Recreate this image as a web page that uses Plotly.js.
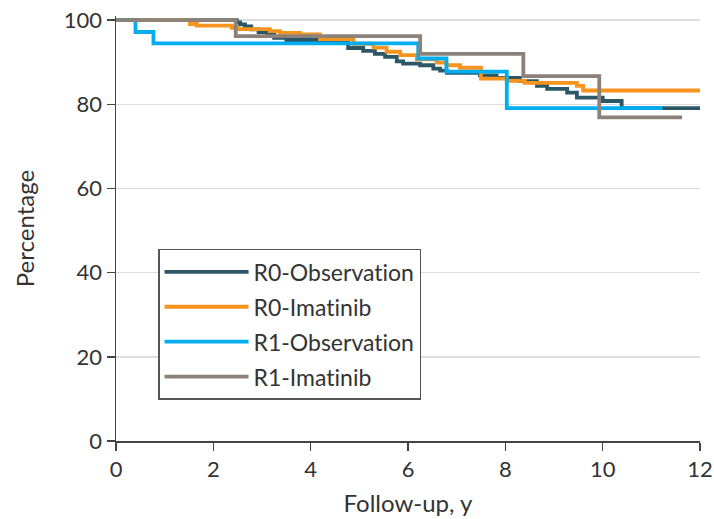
<!DOCTYPE html>
<html>
<head>
<meta charset="utf-8">
<script src="https://cdn.plot.ly/plotly-3.0.1.min.js"></script>
<style>html,body{margin:0;padding:0;background:#fff;}#chart{width:714px;height:519px;}
text{font-variant-ligatures:none;font-feature-settings:"liga" 0,"clig" 0;}</style>
</head>
<body>
<div id="chart"></div>
<script>
// Series names
var seriesNames = ["R0-Observation", "R0-Imatinib", "R1-Observation", "R1-Imatinib"];

// R0-Observation (time in years, percentage after each step)
var r0ObsTime = [0, 2.48, 2.55, 2.65, 2.78, 2.93, 3.1, 3.25, 3.5, 4.77, 5.08, 5.32, 5.53, 5.77, 5.9, 6.25, 6.52, 6.66, 6.8, 7.48, 7.82, 8.3, 8.65, 8.86, 9.27, 9.47, 10.0, 10.39, 12];
var r0ObsPct  = [100, 99.5, 99.0, 98.5, 97.8, 97.2, 96.5, 95.8, 95.3, 93.4, 92.7, 92.0, 91.3, 90.2, 89.7, 89.3, 88.5, 88.0, 87.5, 86.9, 86.3, 85.5, 84.4, 83.7, 82.8, 81.6, 80.8, 79.1, 79.1];

// R0-Imatinib
var r0ImaTime = [0, 1.52, 1.66, 2.38, 2.5, 3.16, 3.37, 3.78, 4.19, 4.88, 5.29, 5.56, 5.84, 6.18, 6.59, 6.79, 7.07, 7.5, 8.03, 8.4, 9.47, 9.6, 12];
var r0ImaPct  = [100, 99.1, 98.7, 98.2, 97.9, 97.4, 97.0, 96.6, 95.5, 94.4, 93.5, 92.5, 91.7, 90.7, 89.9, 89.3, 88.7, 86.1, 85.6, 85.1, 84.4, 83.3, 83.3];

// R1-Observation
var r1ObsTime = [0, 0.40, 0.77, 6.21, 6.79, 8.03, 11.23];
var r1ObsPct  = [100, 97.2, 94.5, 90.9, 87.8, 79.1, 79.1];

// R1-Imatinib
var r1ImaTime = [0, 2.46, 6.25, 8.37, 9.93, 11.63];
var r1ImaPct  = [100, 96.2, 92.0, 86.7, 76.9, 76.9];

// Axis ticks
var xTicks = [0, 2, 4, 6, 8, 10, 12];
var yTicks = [0, 20, 40, 60, 80, 100];

var colors = ["#2c5766", "#f7941d", "#00aeef", "#8c8279"];
var times = [r0ObsTime, r0ImaTime, r1ObsTime, r1ImaTime];
var pcts = [r0ObsPct, r0ImaPct, r1ObsPct, r1ImaPct];

var traces = seriesNames.map(function (n, i) {
  return {
    type: "scatter",
    mode: "lines",
    name: n,
    x: times[i],
    y: pcts[i],
    line: {shape: "hv", color: colors[i], width: 3.8},
    legendgroup: "g" + i,
    cliponaxis: false,
    hoverinfo: "x+y+name"
  };
});

var fontFam = "Lato, 'Open Sans', sans-serif";
var layout = {
  width: 714,
  height: 519,
  margin: {l: 116, r: 14, t: 16, b: 78},
  paper_bgcolor: "#ffffff",
  plot_bgcolor: "#ffffff",
  font: {family: fontFam, color: "#333333", size: 23},
  showlegend: true,
  legend: {
    x: 0.072, y: 0.452, xanchor: "left", yanchor: "top",
    bgcolor: "#ffffff", bordercolor: "#555555", borderwidth: 1.5,
    font: {family: fontFam, size: 23, color: "#333333"},
    traceorder: "grouped", tracegroupgap: 2,
    itemwidth: 84
  },
  xaxis: {
    range: [0, 12],
    tickvals: xTicks,
    ticktext: xTicks.map(String),
    ticks: "outside", ticklen: 8, tickwidth: 1.5, tickcolor: "#444444",
    showline: true, linecolor: "#444444", linewidth: 1.5,
    showgrid: false, zeroline: false,
    tickfont: {family: fontFam, size: 22, color: "#333333"},
    title: {text: "Follow-up, y", font: {family: fontFam, size: 24, color: "#333333"}, standoff: 14}
  },
  yaxis: {
    range: [0, 101],
    tickvals: yTicks,
    ticktext: yTicks.map(String),
    ticks: "outside", ticklen: 8, tickwidth: 1.5, tickcolor: "#444444",
    showline: true, linecolor: "#444444", linewidth: 1.5,
    showgrid: true, gridcolor: "#dddddd", gridwidth: 1.5, zeroline: false,
    tickfont: {family: fontFam, size: 22, color: "#333333"},
    title: {text: "Percentage", font: {family: fontFam, size: 24, color: "#333333"}, standoff: 22}
  }
};

Plotly.newPlot("chart", traces, layout, {displayModeBar: false, staticPlot: true});
</script>
</body>
</html>
